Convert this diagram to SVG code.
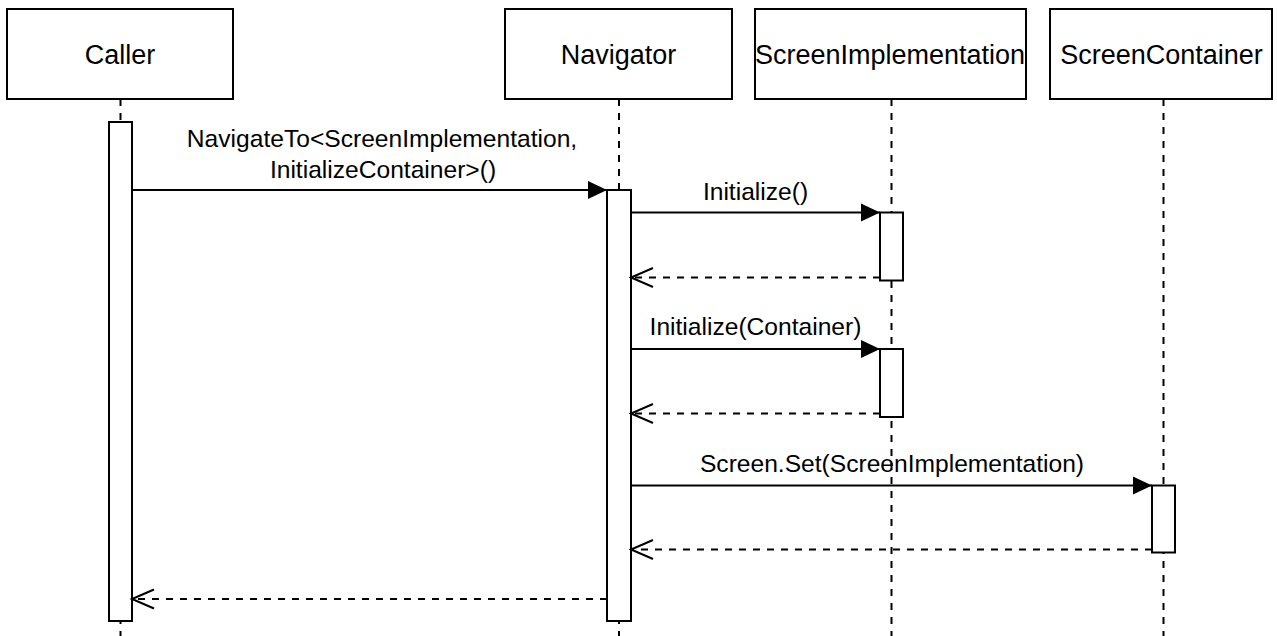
<svg xmlns="http://www.w3.org/2000/svg" width="1277" height="636" viewBox="0 0 1277 636">
  <style>
    .head { fill: #ffffff; stroke: #000000; stroke-width: 2; }
    .head-label { font-family: "Liberation Sans", Arial, sans-serif; font-size: 27px; fill: #000000; text-anchor: middle; }
    .life { stroke: #000000; stroke-width: 2; stroke-dasharray: 7 7; fill: none; }
    .bar { fill: #ffffff; stroke: #000000; stroke-width: 2; }
    .call { stroke: #000000; stroke-width: 2; fill: none; marker-end: url(#block); }
    .ret { stroke: #000000; stroke-width: 2; stroke-dasharray: 7 7; fill: none; marker-end: url(#open); }
    .msg { font-family: "Liberation Sans", Arial, sans-serif; font-size: 24.6px; fill: #000000; text-anchor: middle; }
  </style>
  <defs>
    <marker id="block" markerUnits="userSpaceOnUse" viewBox="-20 -10 21 20" refX="0" refY="0" markerWidth="21" markerHeight="20" orient="auto">
      <path d="M-19,-9 L0,0 L-19,9 Z" fill="#000000" stroke="none"/>
    </marker>
    <marker id="open" markerUnits="userSpaceOnUse" viewBox="-24 -12 27 24" refX="0" refY="0" markerWidth="27" markerHeight="24" orient="auto">
      <path d="M-22,-9.5 L0,0 L-22,9.5" fill="none" stroke="#000000" stroke-width="2" stroke-dasharray="none"/>
    </marker>
  </defs>

  <!-- lifelines: header box, dashed line, activation bars -->
  <g id="caller">
    <line class="life" x1="120.5" y1="99" x2="120.5" y2="636"/>
    <rect class="head" x="7" y="9" width="226" height="90"/>
    <text class="head-label" x="120" y="64">Caller</text>
    <rect class="bar" x="109" y="122" width="23" height="499"/>
  </g>

  <g id="navigator">
    <line class="life" x1="619" y1="99" x2="619" y2="636"/>
    <rect class="head" x="505" y="9" width="227" height="90"/>
    <text class="head-label" x="618.5" y="64">Navigator</text>
    <rect class="bar" x="607" y="190" width="24" height="431"/>
  </g>

  <g id="screen-implementation">
    <line class="life" x1="891.5" y1="99" x2="891.5" y2="636"/>
    <rect class="head" x="755" y="9" width="271" height="90"/>
    <text class="head-label" x="890" y="64">ScreenImplementation</text>
    <rect class="bar" x="880" y="212.5" width="23" height="68"/>
    <rect class="bar" x="880" y="349" width="23" height="68"/>
  </g>

  <g id="screen-container">
    <line class="life" x1="1163.5" y1="99" x2="1163.5" y2="636"/>
    <rect class="head" x="1050" y="9" width="222" height="90"/>
    <text class="head-label" x="1161.5" y="64">ScreenContainer</text>
    <rect class="bar" x="1152" y="485.5" width="23" height="67"/>
  </g>

  <!-- messages -->
  <g id="connectors">
    <line class="call" x1="132" y1="190" x2="607" y2="190"/>
    <text class="msg" x="382" y="147">NavigateTo&lt;ScreenImplementation,</text>
    <text class="msg" x="383" y="178">InitializeContainer&gt;()</text>

    <line class="call" x1="631" y1="212.5" x2="880" y2="212.5"/>
    <text class="msg" x="755.5" y="200">Initialize()</text>
    <line class="ret" x1="880" y1="277.5" x2="631" y2="277.5"/>

    <line class="call" x1="631" y1="349" x2="880" y2="349"/>
    <text class="msg" x="755.5" y="335">Initialize(Container)</text>
    <line class="ret" x1="880" y1="413.5" x2="631" y2="413.5"/>

    <line class="call" x1="631" y1="485.5" x2="1152" y2="485.5"/>
    <text class="msg" x="892" y="472">Screen.Set(ScreenImplementation)</text>
    <line class="ret" x1="1152" y1="549.5" x2="631" y2="549.5"/>

    <line class="ret" x1="607" y1="599" x2="132" y2="599"/>
  </g>
</svg>
